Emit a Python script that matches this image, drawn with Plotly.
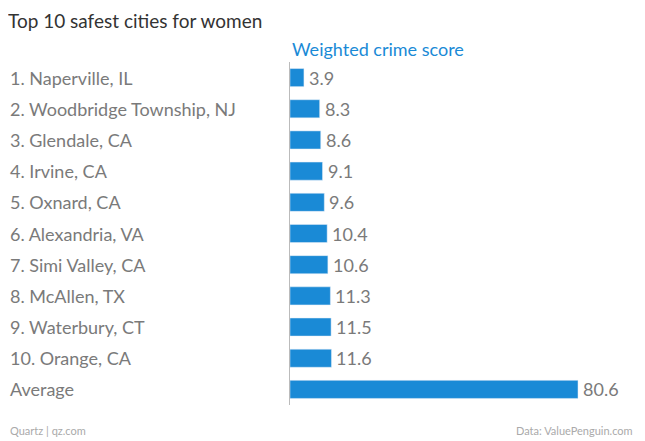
import plotly.graph_objects as go

cities = ["1. Naperville, IL", "2. Woodbridge Township, NJ", "3. Glendale, CA",
          "4. Irvine, CA", "5. Oxnard, CA", "6. Alexandria, VA", "7. Simi Valley, CA",
          "8. McAllen, TX", "9. Waterbury, CT", "10. Orange, CA", "Average"]
scores = [3.9, 8.3, 8.6, 9.1, 9.6, 10.4, 10.6, 11.3, 11.5, 11.6, 80.6]

blue = "#1a8ad6"
gray = "#7a7a7a"

fig = go.Figure(go.Bar(
    x=scores, y=cities, orientation="h", marker_color=blue, width=0.58,
))

annotations = [dict(x=0, y=c, xref="paper", yref="y", text=c, showarrow=False,
                    xanchor="left", font=dict(size=18, color=gray)) for c in cities]
annotations += [dict(x=s, y=c, xref="x", yref="y", text=str(s), showarrow=False,
                     xanchor="left", xshift=3, font=dict(size=18, color=gray))
                for c, s in zip(cities, scores)]
annotations += [
    dict(x=0.4427, y=1.0, xref="paper", yref="paper", yanchor="bottom", xanchor="left",
         text="Weighted crime score", showarrow=False, font=dict(size=18, color=blue)),
    dict(x=0, y=-0.05, xref="paper", yref="paper", yanchor="top", xanchor="left",
         text="Quartz | qz.com", showarrow=False, font=dict(size=11, color="#aaaaaa")),
    dict(x=0.985, y=-0.05, xref="paper", yref="paper", yanchor="top", xanchor="right",
         text="Data: ValuePenguin.com", showarrow=False, font=dict(size=11, color="#aaaaaa")),
]

fig.update_layout(
    width=637, height=430, paper_bgcolor="white", plot_bgcolor="white",
    margin=dict(l=0, r=0, t=54, b=33),
    font=dict(family="Lato, Open Sans, sans-serif"),
    title=dict(text="Top 10 safest cities for women", x=0, y=0.985, yanchor="top",
               xanchor="left", font=dict(size=19, color="#333333")),
    xaxis=dict(domain=[0.4427, 1], range=[0, 99.35], visible=False),
    yaxis=dict(autorange="reversed", showticklabels=False, showgrid=False,
               showline=True, linecolor="#bbbbbb", ticks=""),
    annotations=annotations, showlegend=False,
)

fig.write_html("out.html")
